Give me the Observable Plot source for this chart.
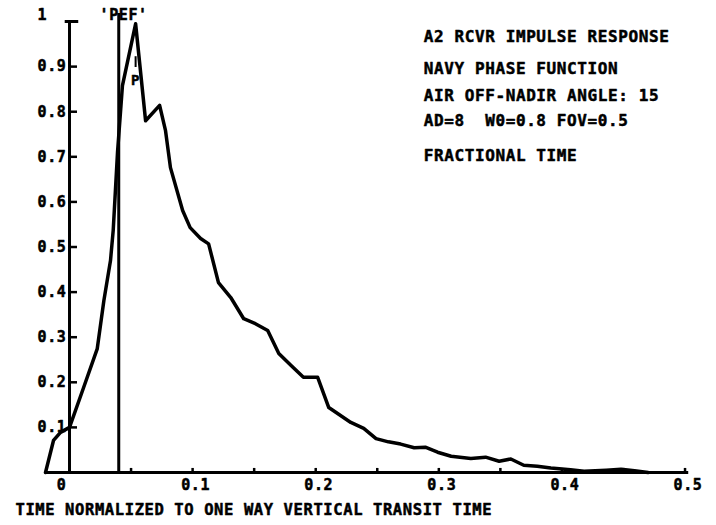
<!DOCTYPE html>
<html><head><meta charset="utf-8">
<script src="https://cdn.jsdelivr.net/npm/d3@7"></script>
<script src="https://cdn.jsdelivr.net/npm/@observablehq/plot@0.6"></script>
<style>body{margin:0;background:#fff} svg text{letter-spacing:0.6px}</style>
</head><body><div id="chart"></div>
<script>
// Normalized time (x) and fractional response (y)
const timeX = [-0.0195,-0.013,-0.0073,0,0.0114,0.0225,0.0279,0.0333,0.0355,0.039,0.043,0.0537,
  0.0618,0.0732,0.078,0.082,0.0919,0.098,0.1065,0.113,0.121,0.131,0.1415,0.151,0.161,0.170,0.180,
  0.190,0.2016,0.2106,0.2285,0.239,0.249,0.259,0.269,0.280,0.289,0.299,0.310,0.326,0.338,0.349,
  0.3585,0.369,0.380,0.391,0.407,0.418,0.436,0.448,0.459,0.470];
const response = [0,0.071,0.089,0.10,0.188,0.274,0.381,0.47,0.537,0.71,0.858,0.995,
  0.78,0.814,0.758,0.676,0.581,0.543,0.519,0.507,0.421,0.388,0.341,0.330,0.315,0.264,0.237,
  0.211,0.211,0.144,0.111,0.098,0.075,0.068,0.063,0.055,0.056,0.045,0.036,0.031,0.034,0.025,
  0.030,0.016,0.014,0.010,0.006,0.003,0.005,0.007,0.004,0];
const xTicks = [0.05,0.1,0.15,0.2,0.25,0.3,0.35,0.4,0.45,0.5];
const xTickLabels = ["0.1","0.2","0.3","0.4","0.5"];
const xTickLabelValues = [0.1,0.2,0.3,0.4,0.5];
const xZeroLabel = "0";
const yTicks = [0.1,0.2,0.3,0.4,0.5,0.6,0.7,0.8,0.9];
const yTickLabels = ["1","0.9","0.8","0.7","0.6","0.5","0.4","0.3","0.2","0.1"];
const yTickLabelValues = [1.013,0.9,0.8,0.7,0.6,0.5,0.4,0.3,0.2,0.1];
const pefTime = 0.040;
const peakTime = 0.0537;
const noteLines = ["A2 RCVR IMPULSE RESPONSE","NAVY PHASE FUNCTION","AIR OFF-NADIR ANGLE: 15","AD=8  W0=0.8 FOV=0.5","FRACTIONAL TIME"];
const noteY = [0.967,0.896,0.836,0.780,0.702];
const xTitle = "TIME NORMALIZED TO ONE WAY VERTICAL TRANSIT TIME";

const curve = timeX.map((x, i) => ({x, y: response[i]}));
const font = {fontFamily: "'DejaVu Sans Mono', monospace", fontWeight: "bold", fill: "#000",
  stroke: "#000", strokeWidth: 0.5};

const chart = Plot.plot({
  width: 716, height: 525,
  marginLeft: 45, marginRight: 13, marginTop: 12, marginBottom: 53,
  x: {domain: [-0.0195, 0.515], axis: null},
  y: {domain: [0, 1.02], axis: null},
  marks: [
    Plot.ruleX([0], {y1: 0, y2: 1, stroke: "#000", strokeWidth: 3}),
    Plot.ruleY([0], {x1: -0.0195, x2: 0.503, stroke: "#000", strokeWidth: 3}),
    Plot.ruleY(yTicks, {x1: 0, x2: 0.0065, stroke: "#000", strokeWidth: 2.5}),
    Plot.ruleY([1], {x1: -0.0035, x2: 0.0075, stroke: "#000", strokeWidth: 3}),
    Plot.ruleX(xTicks, {y1: 0, y2: 0.009, stroke: "#000", strokeWidth: 2.5}),
    Plot.ruleX([pefTime], {y1: 0, y2: 1.018, stroke: "#000", strokeWidth: 3}),
    Plot.ruleX([peakTime], {y1: 0.898, y2: 0.922, stroke: "#000", strokeWidth: 2}),
    Plot.line(curve, {x: "x", y: "y", stroke: "#000", strokeWidth: 3.5, strokeLinejoin: "round"}),
    Plot.text(yTickLabels, {x: () => 0, y: (d, i) => yTickLabelValues[i], text: d => d,
      textAnchor: "start", dx: -32, fontSize: 15, ...font}),
    Plot.text(xTickLabels, {x: (d, i) => xTickLabelValues[i], y: () => 0, text: d => d,
      dy: 13, dx: 3, fontSize: 15, ...font}),
    Plot.text([xZeroLabel], {x: () => 0, y: () => 0, text: d => d,
      dy: 13, dx: -8, fontSize: 15, ...font}),
    Plot.text(["'PEF'"], {x: () => 0.044, y: () => 1.013, text: d => d, fontSize: 15, ...font}),
    Plot.text(["P"], {x: () => peakTime, y: () => 0.869, text: d => d, fontSize: 14, ...font}),
    Plot.text(noteLines, {x: () => 0.2878, y: (d, i) => noteY[i], text: d => d,
      textAnchor: "start", fontSize: 16, ...font}),
    Plot.text([xTitle], {x: () => -0.0439, y: () => -0.084, text: d => d,
      textAnchor: "start", fontSize: 15.5, ...font})
  ]
});
document.getElementById("chart").appendChild(chart);
</script>
</body></html>
